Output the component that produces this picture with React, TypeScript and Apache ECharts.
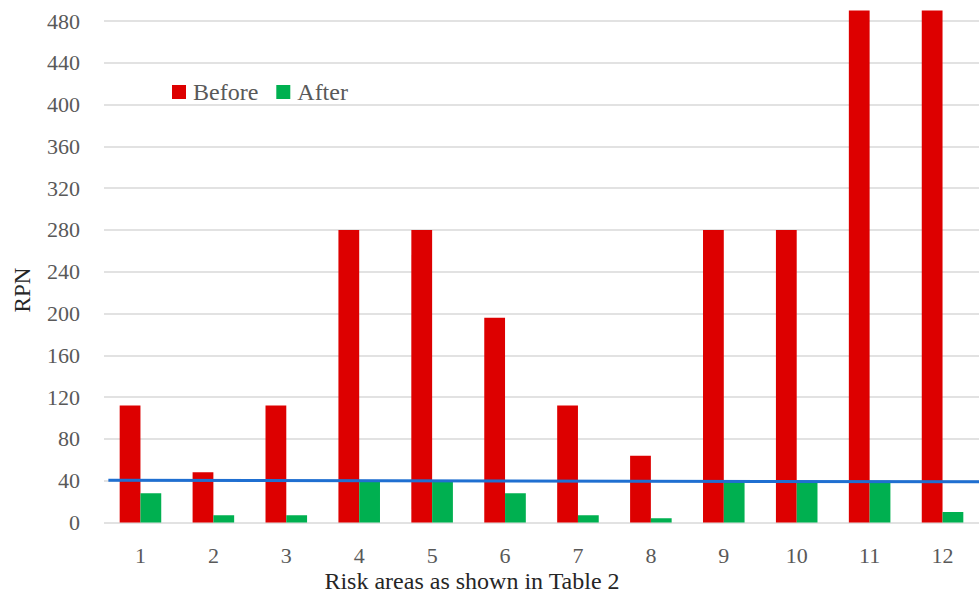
import React, { useEffect, useRef } from "react";
import * as echarts from "echarts";

const categories = ["1", "2", "3", "4", "5", "6", "7", "8", "9", "10", "11", "12"];
const beforeValues = [112, 48, 112, 280, 280, 196, 112, 64, 280, 280, 490, 490];
const afterValues = [28, 7, 7, 40, 40, 28, 7, 4, 40, 40, 40, 10];
const thresholdLine = [
  [0.06, 40.4],
  [12, 39.0],
];
const yTicks = { min: 0, max: 480, interval: 40 };

const FONT = "Liberation Serif";

export default function App() {
  const ref = useRef<HTMLDivElement>(null);
  useEffect(() => {
    document.body.style.margin = "0";
    const chart = echarts.init(ref.current!, null, { renderer: "svg" });
    chart.setOption({
      animation: false,
      backgroundColor: "#ffffff",
      textStyle: { fontFamily: FONT },
      grid: { left: 104, right: -10, top: 21, bottom: 77.5, containLabel: false },
      title: {
        text: "Risk areas as shown in Table 2",
        left: 467,
        top: 564,
        textAlign: "center",
        textStyle: { fontFamily: FONT, fontSize: 24, fontWeight: "normal", color: "#262626" },
      },
      legend: {
        left: 172,
        top: 80,
        padding: 0,
        itemWidth: 14,
        itemHeight: 14,
        itemGap: 18,
        icon: "rect",
        textStyle: { fontFamily: FONT, fontSize: 24, color: "#595959", lineHeight: 24, padding: [0, 0, 0, 2] },
        data: ["Before", "After"],
      },
      xAxis: [
        {
          type: "category",
          data: categories,
          axisLine: { show: false },
          axisTick: { show: false },
          axisLabel: { fontFamily: FONT, fontSize: 22, color: "#595959", margin: 22 },
        },
        {
          type: "value",
          min: 0,
          max: 12,
          show: false,
        },
      ],
      yAxis: {
        type: "value",
        min: yTicks.min,
        max: yTicks.max,
        interval: yTicks.interval,
        axisLine: { show: false },
        axisTick: { show: false },
        axisLabel: { fontFamily: FONT, fontSize: 22, color: "#595959", margin: 24 },
        splitLine: { lineStyle: { color: "#d9d9d9", width: 1.5 } },
      },
      graphic: [
        {
          type: "text",
          x: 22,
          y: 290,
          rotation: Math.PI / 2,
          style: {
            text: "RPN",
            fontFamily: FONT,
            fontSize: 23,
            fill: "#262626",
            textAlign: "center",
            textVerticalAlign: "middle",
          },
        },
      ],
      series: [
        {
          name: "Before",
          type: "bar",
          data: beforeValues,
          itemStyle: { color: "#dd0000" },
          barGap: "0%",
          barCategoryGap: "43%",
          clip: false,
        },
        {
          name: "After",
          type: "bar",
          data: afterValues,
          itemStyle: { color: "#00b050" },
          barGap: "0%",
          barCategoryGap: "43%",
          clip: false,
        },
        {
          name: "Threshold",
          type: "line",
          xAxisIndex: 1,
          data: thresholdLine,
          symbol: "none",
          lineStyle: { color: "#1f6fd1", width: 3 },
          clip: false,
          z: 5,
        },
      ],
    });
    return () => chart.dispose();
  }, []);
  return <div ref={ref} style={{ width: 979, height: 600 }} />;
}
